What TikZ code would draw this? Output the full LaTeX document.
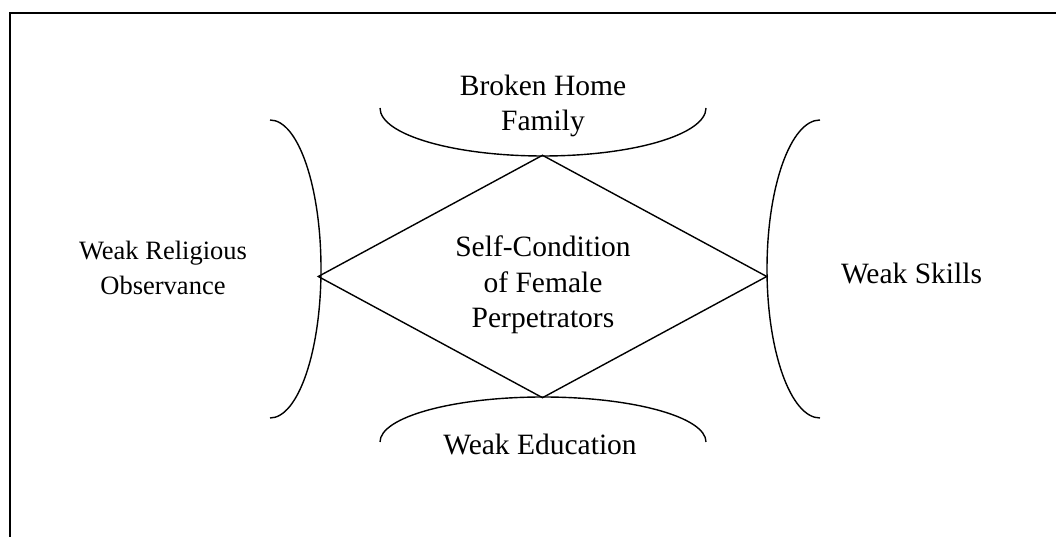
\documentclass[tikz,border=0pt]{standalone}
\usepackage{fontspec}
\setmainfont{Liberation Serif}
\usetikzlibrary{shapes.geometric}

\tikzset{
  factor/.style={align=center, font=\fontsize{29.5}{35.5}\selectfont},
  bow/.style={line width=1.4pt}
}

\begin{document}
\begin{tikzpicture}[x=1pt, y=1pt]
    \useasboundingbox (0,0) rectangle (1056,537);
    \draw[line width=2.6pt] (10,0) -- (10,524) -- (1056,524);

    \node[diamond, draw, bow, aspect=1.85, minimum width=449pt, minimum height=243pt, inner sep=0pt] (rim) at (542.5,260.5) {};

    \begin{scope}[every node/.style={factor}]

        \node (core) at (543,252) {Self-Condition\\of Female\\Perpetrators};

        \node (home) at (543,431) {Broken Home\\Family};
        \node (edu) at (540,93) {Weak Education};
        \node[font=\fontsize{26.5}{35}\selectfont] (relig) at (163,269) {Weak Religious\\Observance};
        \node (skill) at (911.5,264) {Weak Skills};

        % brackets around the diamond
        \draw[bow] (380,429) arc[start angle=180, end angle=360, x radius=163pt, y radius=48pt];
        \draw[bow] (380,95) arc[start angle=180, end angle=0, x radius=163pt, y radius=45pt];
        \draw[bow] (270,417) arc[start angle=90, end angle=-90, x radius=51pt, y radius=149pt];
        \draw[bow] (820,417) arc[start angle=90, end angle=270, x radius=53pt, y radius=149pt];

    \end{scope}
\end{tikzpicture}
\end{document}
